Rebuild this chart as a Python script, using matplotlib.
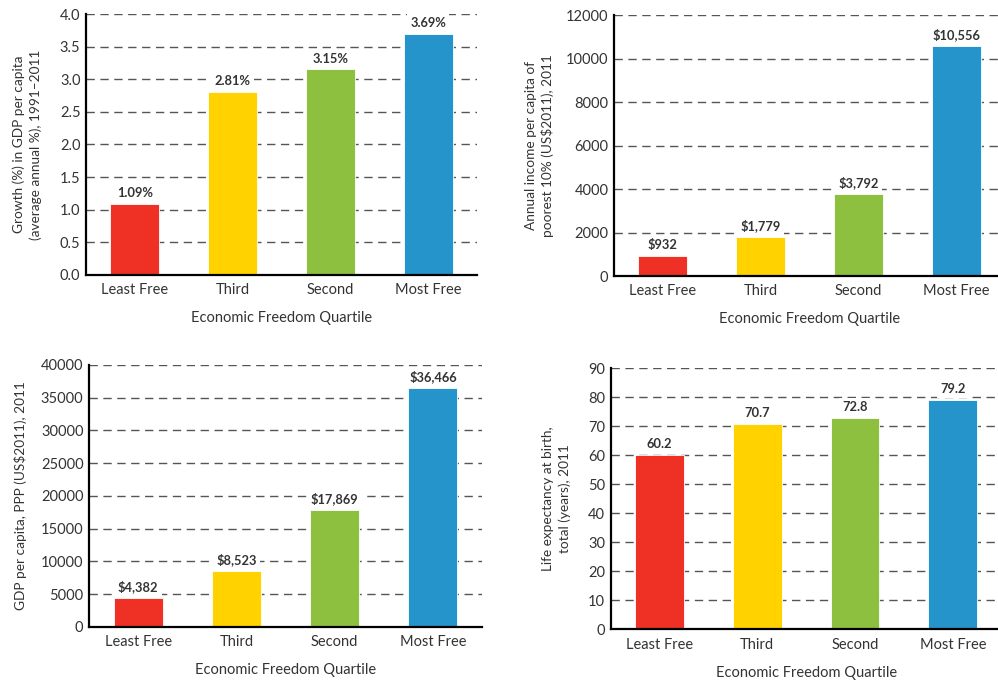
import matplotlib.pyplot as plt

plt.rcParams['font.family'] = ['Lato', 'DejaVu Sans']

quartiles = ['Least Free', 'Third', 'Second', 'Most Free']
colors = ['#ee3124', '#ffd200', '#8dc03f', '#2494ca']

growth = [1.09, 2.81, 3.15, 3.69]
growth_labels = ['1.09%', '2.81%', '3.15%', '3.69%']

poor_income = [932, 1779, 3792, 10556]
poor_income_labels = ['$932', '$1,779', '$3,792', '$10,556']

gdp = [4382, 8523, 17869, 36466]
gdp_labels = ['$4,382', '$8,523', '$17,869', '$36,466']

life = [60.2, 70.7, 72.8, 79.2]
life_labels = ['60.2', '70.7', '72.8', '79.2']

text_col = '#333333'

fig = plt.figure(figsize=(9.98, 6.83), dpi=100)


def panel(rect, values, labels, ymax, ystep, ylabel, ylabel_x, fmt):
    ax = fig.add_axes(rect)
    x = range(len(quartiles))
    ax.bar(x, values, width=0.5, color=colors, edgecolor='white', linewidth=0.6, zorder=3)
    for xi, v, lab in zip(x, values, labels):
        ax.annotate(lab, (xi, v), xytext=(0, 3.5), textcoords='offset points',
                    ha='center', va='bottom', fontsize=9.3, fontweight='bold', color=text_col,
                    zorder=5, bbox=dict(boxstyle='square,pad=0.25', fc='white', ec='none'))
    ax.set_xlim(-0.5, 3.5)
    ax.set_ylim(0, ymax)
    ticks = [i * ystep for i in range(int(round(ymax / ystep)) + 1)]
    ax.set_yticks(ticks)
    ax.set_yticklabels([fmt.format(t) for t in ticks])
    ax.set_xticks(list(x))
    ax.set_xticklabels(quartiles)
    ax.tick_params(length=0, labelsize=10.5, labelcolor=text_col, pad=6)
    ax.tick_params(axis='y', pad=4)
    ax.grid(axis='y', color='#555555', linestyle=(0, (6, 4)), linewidth=1, zorder=0)
    ax.set_axisbelow(True)
    for s in ['top', 'right']:
        ax.spines[s].set_visible(False)
    for s in ['left', 'bottom']:
        ax.spines[s].set_linewidth(1.6)
        ax.spines[s].set_color('black')
        ax.spines[s].set_zorder(4)
    ax.set_xlabel('Economic Freedom Quartile', fontsize=10.5, color=text_col, labelpad=10)
    ax.set_ylabel(ylabel, fontsize=9.8, color=text_col, linespacing=1.4)
    # label coords give the right-hand edge of the rotated label
    ax.yaxis.set_label_coords(ylabel_x, 0.5)
    return ax


panel([0.0862, 0.5974, 0.3918, 0.3821], growth, growth_labels, 4.0, 0.5,
      'Growth (%) in GDP per capita\n(average annual %), 1991\u20132011', -0.1125, '{:.1f}')
panel([0.6152, 0.5959, 0.3918, 0.3821], poor_income, poor_income_labels, 12000, 2000,
      'Annual income per capita of\npoorest 10% (US$2011), 2011', -0.153, '{:.0f}')
panel([0.0892, 0.0820, 0.3938, 0.3836], gdp, gdp_labels, 40000, 5000,
      'GDP per capita, PPP (US$2011), 2011', -0.158, '{:.0f}')
panel([0.6119, 0.0786, 0.3918, 0.3821], life, life_labels, 90, 10,
      'Life expectancy at birth,\ntotal (years), 2011', -0.1015, '{:.0f}')

fig.savefig('out.png', dpi=100)
